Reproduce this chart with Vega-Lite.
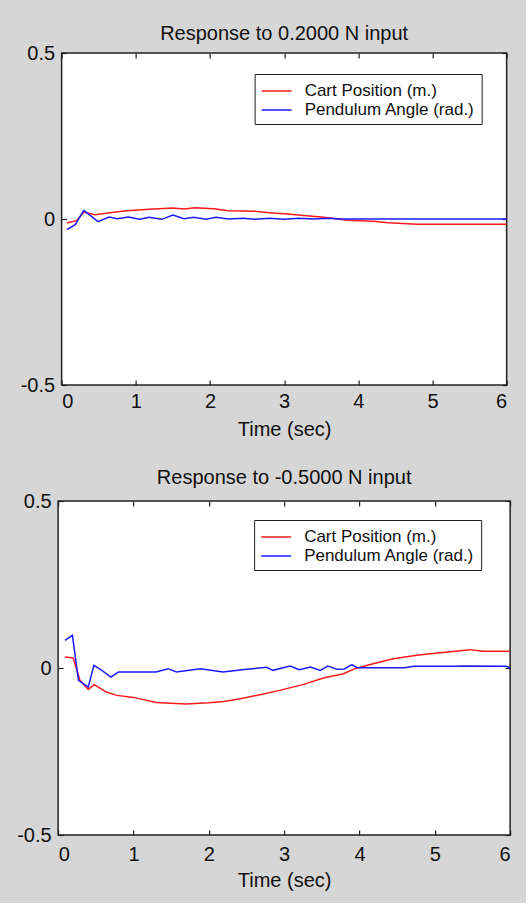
{
  "$schema": "https://vega.github.io/schema/vega-lite/v6.json",
  "background": "#d6d6d6",
  "padding": {"left": 15, "top": 23, "right": 12, "bottom": 12},
  "spacing": 27,
  "center": true,
  "resolve": {"scale": {"color": "independent"}, "legend": {"color": "independent"}},
  "datasets": {
    "top": [
      {"t": 0.07, "v": -0.012, "series": "Cart Position (m.)"},
      {"t": 0.2, "v": -0.005, "series": "Cart Position (m.)"},
      {"t": 0.3, "v": 0.021, "series": "Cart Position (m.)"},
      {"t": 0.45, "v": 0.013, "series": "Cart Position (m.)"},
      {"t": 0.65, "v": 0.019, "series": "Cart Position (m.)"},
      {"t": 0.88, "v": 0.025, "series": "Cart Position (m.)"},
      {"t": 1.18, "v": 0.029, "series": "Cart Position (m.)"},
      {"t": 1.5, "v": 0.033, "series": "Cart Position (m.)"},
      {"t": 1.65, "v": 0.03, "series": "Cart Position (m.)"},
      {"t": 1.8, "v": 0.034, "series": "Cart Position (m.)"},
      {"t": 2.05, "v": 0.031, "series": "Cart Position (m.)"},
      {"t": 2.25, "v": 0.025, "series": "Cart Position (m.)"},
      {"t": 2.6, "v": 0.023, "series": "Cart Position (m.)"},
      {"t": 2.8, "v": 0.019, "series": "Cart Position (m.)"},
      {"t": 3.05, "v": 0.015, "series": "Cart Position (m.)"},
      {"t": 3.3, "v": 0.01, "series": "Cart Position (m.)"},
      {"t": 3.5, "v": 0.006, "series": "Cart Position (m.)"},
      {"t": 3.65, "v": 0.002, "series": "Cart Position (m.)"},
      {"t": 3.85, "v": -0.004, "series": "Cart Position (m.)"},
      {"t": 4.2, "v": -0.007, "series": "Cart Position (m.)"},
      {"t": 4.4, "v": -0.011, "series": "Cart Position (m.)"},
      {"t": 4.8, "v": -0.016, "series": "Cart Position (m.)"},
      {"t": 6.0, "v": -0.016, "series": "Cart Position (m.)"},
      {"t": 0.07, "v": -0.032, "series": "Pendulum Angle (rad.)"},
      {"t": 0.18, "v": -0.018, "series": "Pendulum Angle (rad.)"},
      {"t": 0.3, "v": 0.026, "series": "Pendulum Angle (rad.)"},
      {"t": 0.49, "v": -0.008, "series": "Pendulum Angle (rad.)"},
      {"t": 0.64, "v": 0.006, "series": "Pendulum Angle (rad.)"},
      {"t": 0.75, "v": 0.001, "series": "Pendulum Angle (rad.)"},
      {"t": 0.9, "v": 0.006, "series": "Pendulum Angle (rad.)"},
      {"t": 1.05, "v": -0.001, "series": "Pendulum Angle (rad.)"},
      {"t": 1.18, "v": 0.005, "series": "Pendulum Angle (rad.)"},
      {"t": 1.35, "v": -0.001, "series": "Pendulum Angle (rad.)"},
      {"t": 1.5, "v": 0.012, "series": "Pendulum Angle (rad.)"},
      {"t": 1.65, "v": 0.001, "series": "Pendulum Angle (rad.)"},
      {"t": 1.78, "v": 0.005, "series": "Pendulum Angle (rad.)"},
      {"t": 1.95, "v": -0.001, "series": "Pendulum Angle (rad.)"},
      {"t": 2.08, "v": 0.005, "series": "Pendulum Angle (rad.)"},
      {"t": 2.25, "v": 0.0, "series": "Pendulum Angle (rad.)"},
      {"t": 2.45, "v": 0.002, "series": "Pendulum Angle (rad.)"},
      {"t": 2.6, "v": -0.001, "series": "Pendulum Angle (rad.)"},
      {"t": 2.8, "v": 0.002, "series": "Pendulum Angle (rad.)"},
      {"t": 3.0, "v": -0.001, "series": "Pendulum Angle (rad.)"},
      {"t": 3.2, "v": 0.002, "series": "Pendulum Angle (rad.)"},
      {"t": 3.4, "v": 0.0, "series": "Pendulum Angle (rad.)"},
      {"t": 3.6, "v": 0.002, "series": "Pendulum Angle (rad.)"},
      {"t": 3.75, "v": 0.0, "series": "Pendulum Angle (rad.)"},
      {"t": 6.0, "v": 0.0, "series": "Pendulum Angle (rad.)"}
    ],
    "bottom": [
      {"t": 0.09, "v": 0.033, "series": "Cart Position (m.)"},
      {"t": 0.2, "v": 0.03, "series": "Cart Position (m.)"},
      {"t": 0.29, "v": -0.037, "series": "Cart Position (m.)"},
      {"t": 0.4, "v": -0.064, "series": "Cart Position (m.)"},
      {"t": 0.48, "v": -0.05, "series": "Cart Position (m.)"},
      {"t": 0.64, "v": -0.072, "series": "Cart Position (m.)"},
      {"t": 0.78, "v": -0.082, "series": "Cart Position (m.)"},
      {"t": 1.0, "v": -0.088, "series": "Cart Position (m.)"},
      {"t": 1.3, "v": -0.103, "series": "Cart Position (m.)"},
      {"t": 1.7, "v": -0.108, "series": "Cart Position (m.)"},
      {"t": 2.0, "v": -0.104, "series": "Cart Position (m.)"},
      {"t": 2.2, "v": -0.1, "series": "Cart Position (m.)"},
      {"t": 2.42, "v": -0.092, "series": "Cart Position (m.)"},
      {"t": 2.68, "v": -0.08, "series": "Cart Position (m.)"},
      {"t": 2.94, "v": -0.067, "series": "Cart Position (m.)"},
      {"t": 3.26, "v": -0.049, "series": "Cart Position (m.)"},
      {"t": 3.52, "v": -0.03, "series": "Cart Position (m.)"},
      {"t": 3.79, "v": -0.017, "series": "Cart Position (m.)"},
      {"t": 3.94, "v": -0.002, "series": "Cart Position (m.)"},
      {"t": 4.18, "v": 0.013, "series": "Cart Position (m.)"},
      {"t": 4.45, "v": 0.028, "series": "Cart Position (m.)"},
      {"t": 4.76, "v": 0.038, "series": "Cart Position (m.)"},
      {"t": 5.07, "v": 0.046, "series": "Cart Position (m.)"},
      {"t": 5.47, "v": 0.055, "series": "Cart Position (m.)"},
      {"t": 5.64, "v": 0.05, "series": "Cart Position (m.)"},
      {"t": 6.0, "v": 0.05, "series": "Cart Position (m.)"},
      {"t": 0.09, "v": 0.083, "series": "Pendulum Angle (rad.)"},
      {"t": 0.19, "v": 0.098, "series": "Pendulum Angle (rad.)"},
      {"t": 0.27, "v": -0.037, "series": "Pendulum Angle (rad.)"},
      {"t": 0.4, "v": -0.057, "series": "Pendulum Angle (rad.)"},
      {"t": 0.475, "v": 0.008, "series": "Pendulum Angle (rad.)"},
      {"t": 0.58, "v": -0.007, "series": "Pendulum Angle (rad.)"},
      {"t": 0.7, "v": -0.027, "series": "Pendulum Angle (rad.)"},
      {"t": 0.8, "v": -0.012, "series": "Pendulum Angle (rad.)"},
      {"t": 1.3, "v": -0.012, "series": "Pendulum Angle (rad.)"},
      {"t": 1.46, "v": -0.002, "series": "Pendulum Angle (rad.)"},
      {"t": 1.57, "v": -0.012, "series": "Pendulum Angle (rad.)"},
      {"t": 1.89, "v": -0.002, "series": "Pendulum Angle (rad.)"},
      {"t": 2.19, "v": -0.012, "series": "Pendulum Angle (rad.)"},
      {"t": 2.5, "v": -0.004, "series": "Pendulum Angle (rad.)"},
      {"t": 2.77, "v": 0.002, "series": "Pendulum Angle (rad.)"},
      {"t": 2.85, "v": -0.007, "series": "Pendulum Angle (rad.)"},
      {"t": 3.08, "v": 0.006, "series": "Pendulum Angle (rad.)"},
      {"t": 3.2, "v": -0.005, "series": "Pendulum Angle (rad.)"},
      {"t": 3.35, "v": 0.003, "series": "Pendulum Angle (rad.)"},
      {"t": 3.48, "v": -0.007, "series": "Pendulum Angle (rad.)"},
      {"t": 3.58, "v": 0.006, "series": "Pendulum Angle (rad.)"},
      {"t": 3.7, "v": -0.004, "series": "Pendulum Angle (rad.)"},
      {"t": 3.8, "v": -0.003, "series": "Pendulum Angle (rad.)"},
      {"t": 3.9, "v": 0.01, "series": "Pendulum Angle (rad.)"},
      {"t": 3.97, "v": 0.001, "series": "Pendulum Angle (rad.)"},
      {"t": 4.6, "v": 0.001, "series": "Pendulum Angle (rad.)"},
      {"t": 4.72, "v": 0.005, "series": "Pendulum Angle (rad.)"},
      {"t": 5.3, "v": 0.005, "series": "Pendulum Angle (rad.)"},
      {"t": 5.35, "v": 0.006, "series": "Pendulum Angle (rad.)"},
      {"t": 5.95, "v": 0.005, "series": "Pendulum Angle (rad.)"},
      {"t": 6.0, "v": 0.0, "series": "Pendulum Angle (rad.)"}
    ]
  },
  "vconcat": [
    {
      "title": {"text": "Response to 0.2000 N input", "offset": -1},
      "width": 445,
      "height": 332,
      "data": {"name": "top"},
      "layer": [
        {
          "mark": {"type": "line", "strokeWidth": 1.5},
          "encoding": {
            "x": {"field": "t", "type": "quantitative", "scale": {"domain": [0, 6], "nice": false, "zero": false},
                  "axis": {"orient": "bottom", "values": [0, 1, 2, 3, 4, 5, 6], "title": "Time (sec)", "labelPadding": 11, "titlePadding": 8}},
            "y": {"field": "v", "type": "quantitative", "scale": {"domain": [-0.5, 0.5], "nice": false},
                  "axis": {"orient": "left", "values": [-0.5, 0, 0.5], "title": null, "labelPadding": 12, "labelExpr": "datum.value == 0 ? '0' : (datum.value > 0 ? '0.5' : '-0.5')"}},
            "color": {"field": "series", "type": "nominal",
                      "scale": {"domain": ["Cart Position (m.)", "Pendulum Angle (rad.)"], "range": ["#ff1a1a", "#1a1aff"]},
                      "legend": {"legendX": 193, "legendY": 21}}
          }
        },
        {
          "mark": {"type": "line", "opacity": 0},
          "encoding": {
            "x": {"field": "t", "type": "quantitative", "axis": {"orient": "top", "values": [0, 1, 2, 3, 4, 5, 6], "labels": false, "title": null}},
            "y": {"field": "v", "type": "quantitative", "axis": {"orient": "right", "values": [-0.5, 0, 0.5], "labels": false, "title": null}},
            "detail": {"field": "series"}
          }
        }
      ],
      "resolve": {"axis": {"x": "independent", "y": "independent"}}
    },
    {
      "title": {"text": "Response to -0.5000 N input", "offset": 3},
      "width": 452,
      "height": 334,
      "data": {"name": "bottom"},
      "layer": [
        {
          "mark": {"type": "line", "strokeWidth": 1.5},
          "encoding": {
            "x": {"field": "t", "type": "quantitative", "scale": {"domain": [0, 6], "nice": false, "zero": false},
                  "axis": {"orient": "bottom", "values": [0, 1, 2, 3, 4, 5, 6], "title": "Time (sec)", "labelPadding": 14, "titlePadding": 6}},
            "y": {"field": "v", "type": "quantitative", "scale": {"domain": [-0.5, 0.5], "nice": false},
                  "axis": {"orient": "left", "values": [-0.5, 0, 0.5], "title": null, "labelPadding": 12, "labelExpr": "datum.value == 0 ? '0' : (datum.value > 0 ? '0.5' : '-0.5')"}},
            "color": {"field": "series", "type": "nominal",
                      "scale": {"domain": ["Cart Position (m.)", "Pendulum Angle (rad.)"], "range": ["#ff1a1a", "#1a1aff"]},
                      "legend": {"legendX": 196, "legendY": 19}}
          }
        },
        {
          "mark": {"type": "line", "opacity": 0},
          "encoding": {
            "x": {"field": "t", "type": "quantitative", "axis": {"orient": "top", "values": [0, 1, 2, 3, 4, 5, 6], "labels": false, "title": null}},
            "y": {"field": "v", "type": "quantitative", "axis": {"orient": "right", "values": [-0.5, 0, 0.5], "labels": false, "title": null}},
            "detail": {"field": "series"}
          }
        }
      ],
      "resolve": {"axis": {"x": "independent", "y": "independent"}}
    }
  ],
  "config": {
    "font": "Liberation Sans",
    "view": {"stroke": "#222222", "strokeWidth": 1.5, "fill": "white"},
    "title": {"font": "Liberation Sans", "fontSize": 20, "fontWeight": "normal", "color": "#111111", "baseline": "alphabetic", "anchor": "middle"},
    "axis": {
      "domain": false, "grid": false,
      "tickSize": -5, "tickColor": "#222222", "tickWidth": 1.2,
      "labelFont": "Liberation Sans", "labelFontSize": 20, "labelColor": "#111111",
      "titleFont": "Liberation Sans", "titleFontSize": 20, "titleFontWeight": "normal", "titleColor": "#111111"
    },
    "legend": {
      "orient": "none", "title": null,
      "fillColor": "white", "strokeColor": "#222222", "padding": 6,
      "symbolType": "M-1,0H2", "symbolSize": 400, "symbolStrokeWidth": 1.5,
      "labelFont": "Liberation Sans", "labelFontSize": 17, "labelColor": "#111111", "labelOffset": 22,
      "labelLimit": 0, "rowPadding": 0
    }
  }
}
